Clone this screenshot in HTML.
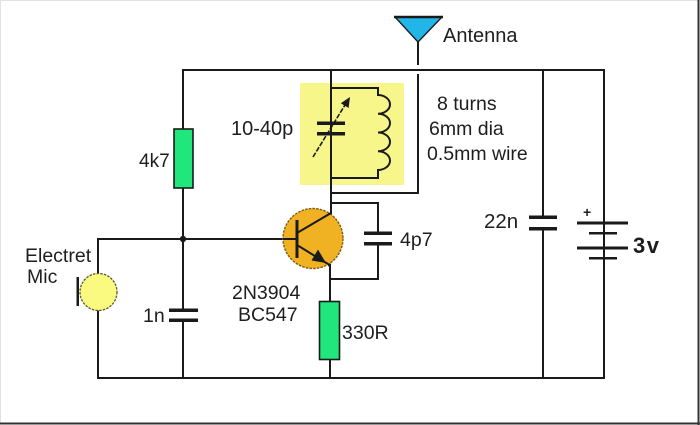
<!DOCTYPE html>
<html><head><meta charset="utf-8"><style>
html,body{margin:0;padding:0;background:#fff;}
svg{display:block;}
text{font-family:"Liberation Sans",Arial,sans-serif;fill:#1e1e1e;}
</style></head><body>
<svg width="700" height="425" viewBox="0 0 700 425" xmlns="http://www.w3.org/2000/svg">
<rect x="0" y="0" width="700" height="425" fill="#fff"/>
<line x1="0.5" y1="0" x2="0.5" y2="424" stroke="#e2e2e2" stroke-width="1"/>
<line x1="0" y1="0.5" x2="699" y2="0.5" stroke="#e2e2e2" stroke-width="1"/>
<line x1="698.5" y1="0" x2="698.5" y2="425" stroke="#333" stroke-width="2"/>
<line x1="0" y1="423.5" x2="700" y2="423.5" stroke="#333" stroke-width="2"/>

<!-- yellow tank box -->
<rect x="300" y="83" width="104" height="102" fill="#f6f68a"/>

<g stroke="#1a1a1a" stroke-width="2" fill="none" stroke-linecap="square">
  <!-- top wire -->
  <line x1="183" y1="70" x2="604" y2="70"/>
  <!-- bottom wire -->
  <line x1="98" y1="378" x2="604" y2="378"/>
  <!-- left 4k7 / 1n vertical -->
  <line x1="183" y1="70" x2="183" y2="311"/>
  <line x1="183" y1="320" x2="183" y2="378"/>
  <!-- main collector vertical -->
  <line x1="331" y1="70" x2="331" y2="214"/>
  <!-- tank connections -->
  <line x1="331" y1="88" x2="378" y2="88"/>
  <line x1="331" y1="178" x2="378" y2="178"/>
  <path d="M378,88 V95 a12 9.375 0 0 1 0 18.75 a12 9.375 0 0 1 0 18.75 a12 9.375 0 0 1 0 18.75 a12 9.375 0 0 1 0 18.75 V178"/>
  <!-- right tank line -->
  <line x1="418" y1="75" x2="418" y2="193"/>
  <line x1="331" y1="193" x2="418" y2="193"/>
  <!-- antenna stem -->
  <line x1="418" y1="42" x2="418" y2="64"/>
  <!-- 22n -->
  <line x1="543" y1="70" x2="543" y2="217"/>
  <line x1="543" y1="229" x2="543" y2="378"/>
  <!-- battery -->
  <line x1="604" y1="70" x2="604" y2="378"/>
  <!-- mic wire -->
  <line x1="98" y1="239" x2="98" y2="378"/>
  <!-- base wire -->
  <line x1="98" y1="239" x2="297" y2="239"/>
  <!-- emitter vertical -->
  <line x1="330" y1="265" x2="330" y2="378"/>
  <!-- 4p7 loop -->
  <line x1="331" y1="203" x2="378" y2="203"/>
  <line x1="378" y1="203" x2="378" y2="233"/>
  <line x1="378" y1="244" x2="378" y2="279"/>
  <line x1="330" y1="279" x2="378" y2="279"/>
</g>

<!-- junction dot -->
<circle cx="183" cy="239" r="3.2" fill="#1a1a1a"/>

<!-- capacitor plates -->
<g fill="#1a1a1a">
  <!-- variable cap -->
  <rect x="317" y="121.5" width="28" height="3.5"/>
  <rect x="317" y="132" width="28" height="3.5"/>
  <!-- 1n -->
  <rect x="169" y="308.5" width="29" height="3.5"/>
  <rect x="169" y="318.5" width="29" height="3.5"/>
  <!-- 4p7 -->
  <rect x="364" y="231.5" width="28" height="3.5"/>
  <rect x="364" y="242" width="28" height="3.5"/>
  <!-- 22n -->
  <rect x="529" y="215.5" width="28" height="3.5"/>
  <rect x="529" y="227" width="28" height="3.5"/>
  <!-- battery -->
  <rect x="577" y="221.5" width="51" height="3"/>
  <rect x="589" y="232" width="28" height="2.5"/>
  <rect x="577" y="246.5" width="51" height="3"/>
  <rect x="589" y="257" width="28" height="2.5"/>
</g>

<!-- variable cap arrow -->
<line x1="313" y1="157" x2="345" y2="105" stroke="#1a1a1a" stroke-width="1.6" stroke-dasharray="5 1.5"/>
<polygon points="350,97 348.6,108 340.8,103.2" fill="#1a1a1a"/>

<!-- resistors -->
<rect x="174" y="129" width="19" height="59" fill="#1fe77b" stroke="#1a1a1a" stroke-width="1.6"/>
<rect x="319.5" y="301.5" width="20" height="58" fill="#1fe77b" stroke="#1a1a1a" stroke-width="1.6"/>

<!-- transistor -->
<circle cx="313" cy="238.5" r="30" fill="#f0b223" stroke="#7a5c10" stroke-width="1.4" stroke-dasharray="2.5 1.2"/>
<g stroke="#1a1a1a" stroke-width="2" fill="none">
  <line x1="283" y1="239" x2="297" y2="239"/>
  <line x1="297" y1="233" x2="331" y2="213"/>
  <line x1="297" y1="245" x2="328" y2="264"/>
</g>
<rect x="295.5" y="220" width="3" height="38" fill="#1a1a1a"/>
<polygon points="326,263 311.5,260.5 318,249.5" fill="#1a1a1a"/>
<circle cx="329.5" cy="265" r="1.6" fill="#1a1a1a"/>

<!-- mic -->
<circle cx="98.5" cy="292" r="18.5" fill="#fafa80" stroke="#5a5a2a" stroke-width="1.3" stroke-dasharray="2.5 1.2"/>
<rect x="76.5" y="277" width="2.5" height="29" fill="#1a1a1a"/>

<!-- antenna -->
<polygon points="395,17 442,17 418,42" fill="#22b5e8" stroke="#1a1a1a" stroke-width="1.3" stroke-linejoin="round"/>
<line x1="394" y1="17" x2="443" y2="17" stroke="#1a1a1a" stroke-width="2.5"/>

<!-- labels -->
<g font-size="19.5">
  <text x="443" y="42" font-size="20">Antenna</text>
  <text x="437" y="110">8 turns</text>
  <text x="429" y="135">6mm dia</text>
  <text x="427" y="160">0.5mm wire</text>
  <text x="231" y="135" font-size="20">10-40p</text>
  <text x="139" y="167" font-size="19">4k7</text>
  <text x="400" y="246">4p7</text>
  <text x="484" y="228" font-size="20.5">22n</text>
  <text x="25" y="262">Electret</text>
  <text x="27" y="283">Mic</text>
  <text x="143" y="322">1n</text>
  <text x="232" y="299">2N3904</text>
  <text x="238" y="321">BC547</text>
  <text x="342" y="339">330R</text>
</g>
<text x="633" y="253" font-size="22" font-weight="bold" letter-spacing="1.5">3v</text>
<text x="583" y="217" font-size="14" font-weight="bold">+</text>
</svg>
</body></html>
